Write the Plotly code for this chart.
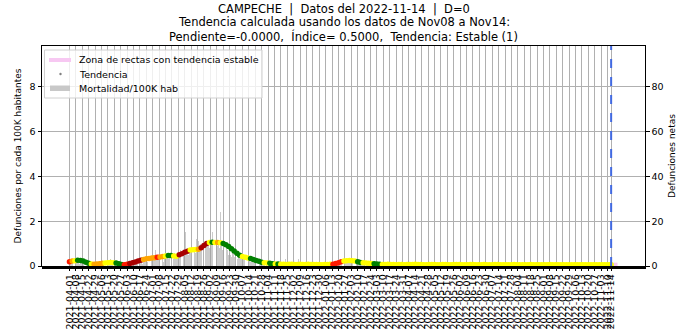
import pandas as pd
import plotly.graph_objects as go

state = "CAMPECHE"
start_date = "2021-04-01"
report_date = "2022-11-14"
fit_start = "2022-11-08"
fit_end = "2022-11-21"
population = 1_000_000

# Daily net deaths, 2021-04-01 .. 2022-11-14 (one group per week)
deaths = [
    2, 1, 3, 2, 1, 5, 1,   7, 2, 3, 2, 1, 3, 2,   3, 2, 1, 3, 2, 1, 2,
    1, 0, 2, 1, 1, 0, 1,   1, 1, 0, 2, 1, 0, 1,   1, 2, 1, 0, 3, 1, 0,
    2, 1, 1, 3, 1, 2, 0,   1, 2, 3, 1, 1, 2, 1,   1, 0, 2, 1, 1, 0, 2,
    0, 1, 1, 0, 1, 0, 1,   2, 1, 1, 3, 1, 2, 1,   3, 2, 4, 1, 3, 2, 3,
    4, 2, 3, 5, 8, 2, 4,   3, 5, 4, 7, 4, 3, 3,   4, 6, 3, 5, 4, 2, 5,
    7, 4, 6, 3, 5, 4, 6,   4, 5, 3, 6, 4, 5, 4,   6, 5, 7, 4, 8, 6, 7,
    7, 15, 6, 8, 5, 7, 8,  8, 9, 6, 8, 7, 6, 12,  9, 11, 8, 10, 10, 9, 12,
    12, 10, 11, 9, 11, 10, 8,  10, 11, 15, 9, 15, 8, 11,  11, 9, 10, 8, 24, 9, 7,
    8, 7, 10, 6, 8, 7, 5,  6, 5, 4, 6, 7, 4, 5,   4, 5, 3, 4, 5, 4, 4,
    3, 4, 3, 2, 4, 3, 3,   2, 3, 2, 3, 2, 2, 3,   2, 1, 2, 1, 2, 1, 1,
    1, 1, 2, 1, 0, 1, 1,   1, 0, 1, 1, 0, 2, 1,   0, 1, 1, 0, 1, 1, 0,
    1, 1, 0, 1, 1, 3, 1,   0, 1, 1, 1, 0, 1, 1,   1, 0, 1, 0, 1, 3, 0,
    1, 1, 0, 1, 0, 1, 1,   0, 1, 1, 0, 1, 0, 1,   1, 0, 1, 1, 0, 1, 1,
    1, 1, 0, 1, 1, 1, 0,   1, 0, 1, 1, 0, 1, 1,   1, 2, 1, 1, 2, 1, 1,
    2, 1, 2, 3, 1, 2, 2,   3, 2, 2, 3, 2, 3, 2,   3, 2, 3, 2, 3, 2, 2,
    2, 2, 3, 1, 2, 2, 2,   1, 2, 1, 2, 1, 1, 2,   1, 1, 2, 1, 1, 0, 1,
    1, 0, 1, 1, 1, 0, 1,   1, 0, 1, 0, 1, 1, 0,   0, 1, 0, 1, 1, 0, 1,
    1, 1, 0, 0, 1, 0, 1,   0, 1, 1, 0, 0, 1, 1,   1, 0, 0, 1, 1, 0, 1,
    0, 1, 0, 1, 0, 1, 1,   1, 0, 1, 1, 0, 0, 1,   1, 1, 0, 0, 1, 0, 1,
    0, 1, 1, 0, 1, 0, 0,   1, 0, 1, 0, 1, 1, 0,   0, 0, 1, 1, 0, 1, 1,
    1, 0, 0, 1, 1, 0, 1,   0, 1, 1, 0, 1, 0, 1,   1, 0, 1, 0, 0, 1, 1,
    0, 1, 0, 1, 1, 0, 1,   1, 1, 0, 0, 1, 1, 0,   0, 1, 1, 0, 1, 0, 1,
    1, 0, 0, 1, 0, 1, 1,   0, 1, 1, 0, 0, 1, 1,   1, 0, 1, 1, 0, 0, 1,
    0, 1, 0, 1, 1, 0, 1,   1, 0, 1, 0, 1, 0, 1,   0, 1, 1, 0, 0, 1, 1,
    1, 0, 0, 1, 1, 0, 1,   0, 1, 0, 1, 0, 1, 1,   1, 1, 0, 0, 1, 0, 1,
    0, 1, 1, 0, 1, 0, 0,   1, 0, 1, 0, 1, 1, 0,   0, 0, 1, 1, 0, 1, 1,
    1, 0, 1, 0, 1, 0, 1,   0, 1, 0, 1, 1, 0, 1,   1, 0, 1, 1, 0, 0, 1,
    0, 1, 0, 1, 0, 1, 1,   1, 0, 1, 0, 1, 0, 1,   0, 1, 1, 0, 0, 1, 1,
    0, 1, 0, 1, 0,
]

# Trend (smoothed deaths per 100K), sampled every 3 days, plus the report date
trend_values = [
    0.19, 0.22, 0.24, 0.26, 0.25, 0.22, 0.17, 0.12, 0.09, 0.08,
    0.09, 0.10, 0.12, 0.13, 0.15, 0.16, 0.15, 0.13, 0.10, 0.07,
    0.06, 0.08, 0.11, 0.14, 0.18, 0.22, 0.26, 0.29, 0.32, 0.34,
    0.36, 0.37, 0.39, 0.40, 0.42, 0.45, 0.47, 0.47, 0.45, 0.44,
    0.50, 0.55, 0.61, 0.66, 0.71, 0.73, 0.74, 0.75, 0.82, 0.92,
    1.00, 1.05, 1.06, 1.05, 1.05, 1.04, 1.00, 0.95, 0.87, 0.77,
    0.67, 0.57, 0.48, 0.42, 0.39, 0.36, 0.33, 0.29, 0.25, 0.21,
    0.17, 0.15, 0.13, 0.12, 0.10, 0.09, 0.09, 0.08, 0.08, 0.07,
    0.08, 0.08, 0.07, 0.07, 0.08, 0.07, 0.07, 0.08, 0.07, 0.07,
    0.07, 0.07, 0.06, 0.07, 0.07, 0.08, 0.08, 0.11, 0.15, 0.19,
    0.22, 0.24, 0.25, 0.24, 0.22, 0.19, 0.16, 0.14, 0.13, 0.12,
    0.11, 0.10, 0.09, 0.08, 0.07, 0.07, 0.08, 0.07, 0.07, 0.06,
    0.07, 0.07, 0.06, 0.07, 0.07, 0.07, 0.08, 0.07, 0.07, 0.06,
    0.06, 0.07, 0.07, 0.07, 0.06, 0.06, 0.07, 0.07, 0.06, 0.06,
    0.07, 0.07, 0.07, 0.06, 0.06, 0.06, 0.07, 0.07, 0.06, 0.06,
    0.06, 0.07, 0.06, 0.06, 0.06, 0.07, 0.07, 0.06, 0.06, 0.06,
    0.06, 0.06, 0.07, 0.06, 0.06, 0.06, 0.06, 0.06, 0.07, 0.06,
    0.06, 0.06, 0.06, 0.06, 0.06, 0.07, 0.06, 0.06, 0.06, 0.06,
    0.06, 0.06, 0.06, 0.06, 0.06, 0.06, 0.06, 0.06, 0.06, 0.06,
    0.06, 0.06, 0.06, 0.06, 0.06, 0.06, 0.06, 0.06,
    0.06,
]

# Trend class per sample: R rising, D rising fast, O mild rise, Y stable, G falling
trend_classes = (
    "ROYGGGGGYO" "OOOYYYYGGG" "RRDDDDDOOO" "OOROOYGGYY"
    "DDDDYYYODD" "DYGYOYGGGG" "GGGYYYGGGG" "GYYGGYGYYY"
    "YYYYYYYYYY" "YYYYYYRRRR" "YYYYYGGYYY" "YGGGYYYYYY"
    "YYYYYYYYYY" "YYYYYYYYYY" "YYYYYYYYYY" "YYYYYYYYYY"
    "YYYYYYYYYY" "YYYYYYYYYY" "YYYYYYYYYY" "YYYYYYYYY"
)
class_colors = {"R": "#ff1a00", "D": "#a80000", "O": "#ffa500",
                "Y": "#ffff00", "G": "#008000"}

fit_values = [0.06, 0.06]

NB = "\u00a0"
title_lines = [
    f"{state}{NB} |{NB} Datos del {report_date}{NB} |{NB} D=0",
    "Tendencia calculada usando los datos de Nov08 a Nov14:",
    f"Pendiente=-0.0000,{NB} Índice= 0.5000,{NB} Tendencia: Estable (1)",
]
legend_labels = ["Zona de rectas con tendencia estable", "Tendencia",
                 "Mortalidad/100K hab"]

# ---- derived series -------------------------------------------------------
day_dates = pd.date_range(start_date, periods=len(deaths), freq="D")
mort_100k = [d / population * 1e5 for d in deaths]

trend_dates = list(pd.date_range(start_date, periods=len(trend_values) - 1, freq="3D"))
trend_dates.append(pd.Timestamp(report_date))
trend_cols = [class_colors[c] for c in trend_classes]

week_ticks = list(pd.date_range(start_date, report_date, freq="7D"))
fmt = lambda t: t.strftime("%Y-%m-%d")
# weekly labels split over two overlaid axes so none get dropped
ticks_a = week_ticks[0::2]
ticks_b = week_ticks[1::2]
ticks_c = [pd.Timestamp(report_date)]

FONT = "DejaVu Sans"
TICK_FS = 9.5
LABEL_FS = 9
X_RANGE = ["2021-03-02", "2022-12-21"]

fig = go.Figure()

fig.add_trace(go.Bar(
    x=day_dates, y=mort_100k, name=legend_labels[2], showlegend=False,
    marker=dict(color="rgba(160,160,160,0.55)", line=dict(width=0)),
    width=0.75 * 86400000, hoverinfo="skip",
))
fig.add_trace(go.Scatter(
    x=[fit_start, fit_end], y=fit_values, mode="lines",
    line=dict(color="#f7c8f2", width=4),
    name=legend_labels[0], showlegend=False,
))
fig.add_trace(go.Scatter(
    x=trend_dates, y=trend_values, mode="markers", name=legend_labels[1],
    marker=dict(color=trend_cols, size=5.5, line=dict(width=0)),
    showlegend=False,
))
# anchors for the overlaid axes
fig.add_trace(go.Scatter(x=[day_dates[0]], y=[0], yaxis="y2", mode="markers",
                         marker=dict(opacity=0), showlegend=False, hoverinfo="skip"))
for ax in ("x2", "x3"):
    fig.add_trace(go.Scatter(x=[day_dates[0]], y=[0], xaxis=ax, mode="markers",
                             marker=dict(opacity=0), showlegend=False,
                             hoverinfo="skip"))

fig.add_shape(type="line", xref="x", yref="paper",
              x0=report_date, x1=report_date, y0=0, y1=1,
              line=dict(color="#4169e1", width=2, dash="dash"))

# ---- legend box (pixel layout of the plot area: x 42..645, y 46..266) -------
def px(x):
    return (x - 42) / 603


def py(y):
    return (266 - y) / 220


fig.add_shape(type="rect", xref="paper", yref="paper",
              x0=px(44.5), x1=px(262), y0=py(98), y1=py(50),
              fillcolor="rgba(255,255,255,0.8)", line=dict(color="#d0d0d0", width=1),
              layer="above")
fig.add_shape(type="line", xref="paper", yref="paper",
              x0=px(49), x1=px(71), y0=py(60), y1=py(60),
              line=dict(color="#f7c8f2", width=4), layer="above")
fig.add_shape(type="circle", xref="paper", yref="paper",
              x0=px(59.3), x1=px(61.7), y0=py(75.2), y1=py(72.8),
              fillcolor="#808080", line=dict(width=0), layer="above")
fig.add_shape(type="rect", xref="paper", yref="paper",
              x0=px(50), x1=px(70), y0=py(91), y1=py(85.5),
              fillcolor="#c8c8c8", line=dict(width=0), layer="above")
for txt, yy in zip(legend_labels, (60, 74, 88.5)):
    fig.add_annotation(text=txt, xref="paper", yref="paper", x=px(77), y=py(yy),
                       xanchor="left", yanchor="middle", showarrow=False,
                       font=dict(family=FONT, size=9.5, color="black"))

for txt, yy in zip(title_lines, (8.5, 22.5, 37)):
    fig.add_annotation(text=txt, xref="paper", yref="paper", x=0.5, y=py(yy),
                       xanchor="center", yanchor="middle", showarrow=False,
                       font=dict(family=FONT, size=11.5, color="black"))

grid = dict(showgrid=True, gridcolor="#b0b0b0", gridwidth=1)
xcommon = dict(type="date", range=X_RANGE, tickmode="array", tickangle=-90,
               tickfont=dict(size=TICK_FS), ticks="outside", ticklen=3.5,
               tickcolor="black", zeroline=False, automargin=False, **grid)

fig.update_layout(
    width=687, height=332,
    margin=dict(l=42, r=42, t=46, b=66),
    paper_bgcolor="white", plot_bgcolor="white",
    font=dict(family=FONT, size=TICK_FS, color="black"),
    bargap=0, showlegend=False,
    xaxis=dict(
        tickvals=ticks_a, ticktext=[fmt(t) for t in ticks_a],
        showline=True, linecolor="black", linewidth=1, mirror=True,
        minor=dict(tickmode="linear", tick0=start_date, dtick=86400000,
                   ticks="outside", ticklen=2, tickcolor="black",
                   showgrid=False),
        **xcommon,
    ),
    xaxis2=dict(overlaying="x", anchor="y", side="bottom", matches="x",
                tickvals=ticks_b, ticktext=[fmt(t) for t in ticks_b],
                showline=False, **xcommon),
    xaxis3=dict(overlaying="x", anchor="y", side="bottom", matches="x",
                tickvals=ticks_c, ticktext=[fmt(t) for t in ticks_c],
                showline=False, **xcommon),
    yaxis=dict(
        range=[0, 9.83], tickvals=[0, 2, 4, 6, 8],
        ticks="outside", ticklen=3.5, tickcolor="black",
        showline=True, linecolor="black", linewidth=1, mirror=True,
        zeroline=False, automargin=False,
        title=dict(text="Defunciones por cada 100K habitantes",
                   font=dict(size=LABEL_FS), standoff=6),
        **grid,
    ),
    yaxis2=dict(
        overlaying="y", side="right", range=[0, 98.3],
        tickvals=[0, 20, 40, 60, 80], showgrid=False,
        ticks="outside", ticklen=3.5, tickcolor="black",
        showline=True, linecolor="black", linewidth=1, zeroline=False,
        automargin=False,
        title=dict(text="Defunciones netas", font=dict(size=LABEL_FS), standoff=6),
    ),
)

fig.write_html("out.html")
